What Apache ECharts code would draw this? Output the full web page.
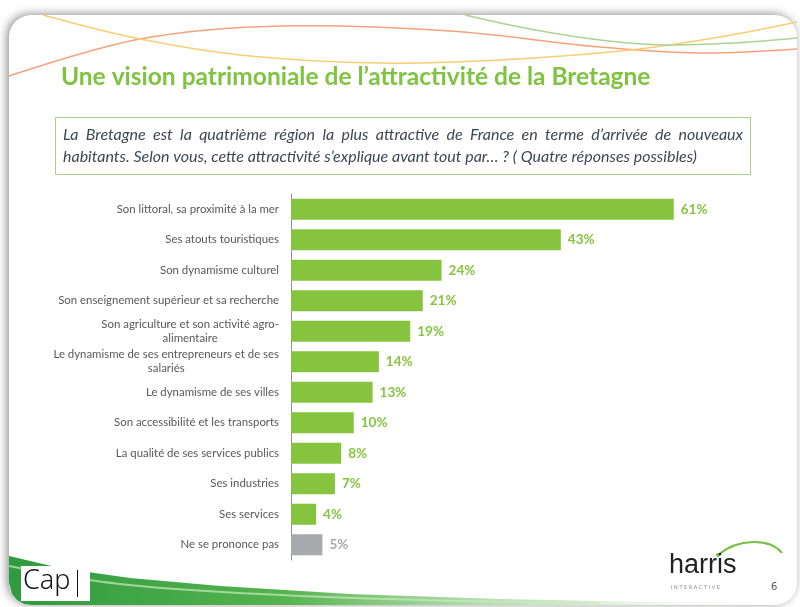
<!DOCTYPE html>
<html>
<head>
<meta charset="utf-8">
<script src="https://cdn.jsdelivr.net/npm/echarts@6/dist/echarts.min.js"></script>
<style>
  html, body { margin: 0; padding: 0; background: #fff; }
  #chart { width: 800px; height: 607px; }
</style>
</head>
<body>
<div id="chart"></div>
<script>
// categories top to bottom
var categories = [
  'Son littoral, sa proximité à la mer',
  'Ses atouts touristiques',
  'Son dynamisme culturel',
  'Son enseignement supérieur et sa recherche',
  'Son agriculture et son activité agro-\nalimentaire',
  'Le dynamisme de ses entrepreneurs et de ses\nsalariés',
  'Le dynamisme de ses villes',
  'Son accessibilité et les transports',
  'La qualité de ses services publics',
  'Ses industries',
  'Ses services',
  'Ne se prononce pas'
];
var shares = [61, 43, 24, 21, 19, 14, 13, 10, 8, 7, 4, 5];
var noAnswer = 'Ne se prononce pas';

var titleText = 'Une vision patrimoniale de l\u2019attractivité de la Bretagne';
var questionLines = [
  'La Bretagne est la quatrième région la plus attractive de France en terme d\u2019arrivée de nouveaux',
  'habitants. Selon vous, cette attractivité s\u2019explique avant tout par\u2026 ? ( Quatre réponses possibles)'
];

var green = '#86c440';
var grey = '#a7a9ac';
var qFont = 'italic 16px Lato, "Open Sans", sans-serif';

var chart = echarts.init(document.getElementById('chart'));

var decor = [
  // slide panel
  {
    type: 'rect', z: -10, silent: true,
    shape: { x: 9, y: 15, width: 788, height: 590, r: 22 },
    style: { fill: '#fff', shadowBlur: 10, shadowColor: 'rgba(0,0,0,0.45)', shadowOffsetX: -2, shadowOffsetY: -1 }
  },
  // top curves
  {
    type: 'polyline', z: -9, silent: true,
    shape: { points: [[9, 76], [140, 39], [280, 26], [450, 31], [600, 47], [700, 53], [797, 49]], smooth: 0.35 },
    style: { stroke: '#f4a27e', lineWidth: 1.5, fill: null }
  },
  {
    type: 'polyline', z: -9, silent: true,
    shape: { points: [[43, 15], [140, 39], [250, 56], [380, 63], [500, 60], [630, 50], [720, 37], [797, 22]], smooth: 0.35 },
    style: { stroke: '#f9cd72', lineWidth: 1.5, fill: null }
  },
  {
    type: 'polyline', z: -9, silent: true,
    shape: { points: [[465, 15], [530, 29], [600, 40], [667, 45], [733, 43], [797, 38]], smooth: 0.35 },
    style: { stroke: '#abd393', lineWidth: 1.5, fill: null }
  },
  // bottom swoosh
  {
    type: 'polygon', z: -8, silent: true,
    shape: {
      points: [[9, 556], [60, 568], [130, 578], [220, 586], [350, 594], [500, 599], [650, 602], [797, 603],
               [797, 605], [31, 605], [24, 604], [17, 600], [12, 594], [9, 583]]
    },
    style: {
      fill: new echarts.graphic.LinearGradient(0, 0, 1, 0, [
        { offset: 0, color: '#2f9a3e' },
        { offset: 0.35, color: '#55b34f' },
        { offset: 0.7, color: 'rgba(160,210,150,0.5)' },
        { offset: 1, color: 'rgba(255,255,255,0)' }
      ])
    }
  },
  {
    type: 'polyline', z: -7, silent: true,
    shape: { points: [[9, 566], [120, 584], [260, 594], [420, 600], [600, 603]], smooth: 0.4 },
    style: { stroke: 'rgba(200,235,190,0.7)', lineWidth: 2, fill: null }
  },
  // Cap logo
  {
    type: 'rect', z: -6, silent: true,
    shape: { x: 21, y: 566, width: 69, height: 35 },
    style: { fill: '#fff' }
  },
  {
    type: 'text', z: -5, silent: true,
    left: 23, top: 568,
    style: { text: 'Cap', fill: '#111', font: '300 27px "Liberation Sans Narrow", "Noto Sans", sans-serif' }
  },
  {
    type: 'rect', z: -5, silent: true,
    shape: { x: 77, y: 570, width: 1, height: 27 },
    style: { fill: '#111' }
  },
  // harris logo
  {
    type: 'bezierCurve', z: -5, silent: true,
    shape: { x1: 718, y1: 555, cpx1: 738, cpx2: 770, cpy1: 538, cpy2: 538, x2: 782, y2: 553 },
    style: { stroke: '#74c043', lineWidth: 2, fill: null }
  },
  {
    type: 'circle', z: -5, silent: true,
    shape: { cx: 718, cy: 555, r: 2 },
    style: { fill: '#74c043' }
  },
  {
    type: 'text', z: -5, silent: true,
    left: 669, top: 552,
    style: { text: 'harris', fill: '#222', font: '27px "Liberation Sans Narrow", sans-serif' }
  },
  {
    type: 'text', z: -5, silent: true,
    left: 671, top: 585,
    style: { text: 'I N T E R A C T I V E', fill: '#8a8a8a', font: '5px "DejaVu Sans", sans-serif' }
  },
  {
    type: 'text', z: -5, silent: true,
    left: 771, top: 582,
    style: { text: '6', fill: '#555', font: '10px "DejaVu Sans", sans-serif' }
  },
  // question box
  {
    type: 'rect', silent: true,
    shape: { x: 55.5, y: 117.5, width: 695, height: 57 },
    style: { fill: '#fff', stroke: '#a9d18e', lineWidth: 1 }
  }
];

// question text: first line justified across the box, last line left aligned
var measureCtx = document.createElement('canvas').getContext('2d');
measureCtx.font = qFont;
var qLeft = 63, qRight = 743;
questionLines.forEach(function (line, i) {
  var top = 127 + i * 22;
  if (i === questionLines.length - 1) {
    decor.push({ type: 'text', silent: true, left: qLeft, top: top,
      style: { text: line, fill: '#3d4756', font: qFont } });
    return;
  }
  var words = line.split(' ');
  var widths = words.map(function (w) { return measureCtx.measureText(w).width; });
  var total = widths.reduce(function (a, b) { return a + b; }, 0);
  var gap = (qRight - qLeft - total) / (words.length - 1);
  var x = qLeft;
  words.forEach(function (w, k) {
    decor.push({ type: 'text', silent: true, x: x, y: top,
      style: { text: w, fill: '#3d4756', font: qFont } });
    x += widths[k] + gap;
  });
});

chart.setOption({
  backgroundColor: '#fff',
  animation: false,
  title: {
    text: titleText,
    left: 56, top: 60,
    textStyle: { color: '#80c342', fontSize: 24.5, fontWeight: 'bold', fontFamily: 'Lato, "Open Sans", sans-serif' }
  },
  graphic: decor,
  grid: { left: 291, top: 194, width: 502, height: 366, containLabel: false },
  xAxis: { type: 'value', min: 0, max: 80, show: false },
  yAxis: {
    type: 'category',
    inverse: true,
    data: categories,
    axisLine: { lineStyle: { color: '#8a8cc0', width: 1 } },
    axisTick: { length: 5, lineStyle: { color: '#8a8cc0' } },
    axisLabel: {
      margin: 12, align: 'right',
      // wrapped labels: block right-aligned, lines centred inside it
      formatter: function (v) {
        return v.split('\n').map(function (l) { return '{c|' + l + '}'; }).join('\n');
      },
      rich: {
        c: { align: 'center', color: '#595959', fontSize: 11.4, lineHeight: 14,
             fontFamily: 'Lato, "Open Sans", sans-serif' }
      }
    }
  },
  series: [{
    type: 'bar',
    data: shares,
    barCategoryGap: '31%',
    itemStyle: {
      color: function (p) { return categories[p.dataIndex] === noAnswer ? grey : green; }
    },
    label: {
      show: true, position: 'right', distance: 7,
      formatter: function (p) {
        return (categories[p.dataIndex] === noAnswer ? '{n|' : '{g|') + p.value + '%}';
      },
      rich: {
        g: { color: green, fontSize: 13.5, fontWeight: 'bold', fontFamily: 'Lato, "Open Sans", sans-serif' },
        n: { color: grey, fontSize: 13.5, fontWeight: 'bold', fontFamily: 'Lato, "Open Sans", sans-serif' }
      }
    }
  }]
});
</script>
</body>
</html>
